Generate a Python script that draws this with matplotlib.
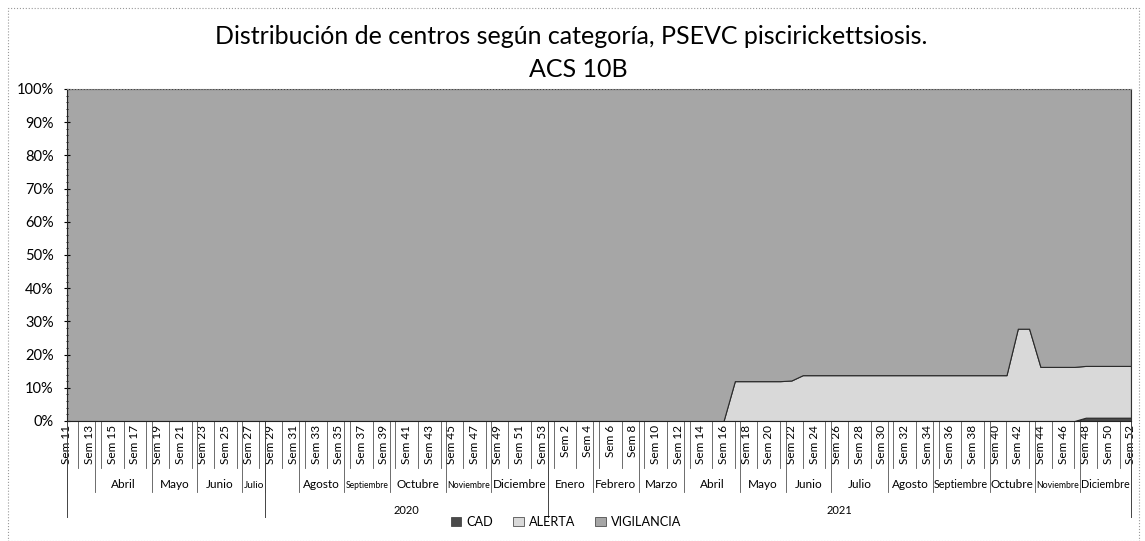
import matplotlib
matplotlib.use("Agg")
import matplotlib.pyplot as plt
import matplotlib.ticker as mticker
from matplotlib.patches import Rectangle, Patch
import numpy as np

plt.rcParams['font.family'] = ['Lato', 'DejaVu Sans']

# ---------------- data ----------------
weeks_2020 = list(range(11, 54))     # Sem 11 .. Sem 53 (2020)
weeks_2021 = list(range(1, 53))      # Sem 1 .. Sem 52 (2021)
week_labels = [f"Sem {w}" for w in weeks_2020] + [f"Sem {w}" for w in weeks_2021]

# percentage of centres per category
cad = [0.0] * 90 + [1.0, 1.0, 1.0, 1.0, 1.0]
alerta = ([0.0] * 59 +
          [12.0, 12.0, 12.0, 12.0, 12.0, 12.2] +
          [13.8] * 19 +
          [27.8, 27.8] +
          [16.3, 16.3, 16.3, 16.3] +
          [15.6, 15.6, 15.6, 15.6, 15.6])
vigilancia = [100.0 - c - a for c, a in zip(cad, alerta)]

# month groups (label, number of weeks) as in the multi-level axis
month_groups = [("", 3), ("Abril", 5), ("Mayo", 4), ("Junio", 4), ("Julio", 2),
                ("", 3), ("Agosto", 4), ("Septiembre", 4), ("Octubre", 5),
                ("Noviembre", 4), ("Diciembre", 5),
                ("Enero", 4), ("Febrero", 4), ("Marzo", 4), ("Abril", 5),
                ("Mayo", 4), ("Junio", 4), ("Julio", 5), ("Agosto", 4),
                ("Septiembre", 5), ("Octubre", 4), ("Noviembre", 4), ("Diciembre", 5)]
year_groups = [("", 18), ("2020", 25), ("2021", 52)]

series_names = ["CAD", "ALERTA", "VIGILANCIA"]
colors = ["#4a4a4a", "#d9d9d9", "#a6a6a6"]

# ---------------- figure ----------------
W, H = 1145, 541
fig = plt.figure(figsize=(W / 100, H / 100), dpi=100)
fig.patch.set_facecolor("white")

ax_l, ax_r, ax_t, ax_b = 67, 1131, 89, 421
ax = fig.add_axes([ax_l / W, 1 - ax_b / H, (ax_r - ax_l) / W, (ax_b - ax_t) / H])

n = len(week_labels)
x = np.arange(n)
total = np.array(cad) + np.array(alerta) + np.array(vigilancia)
ys = [np.array(s) / total for s in (cad, alerta, vigilancia)]
ax.stackplot(x, *ys, colors=colors, labels=series_names,
             edgecolor="#2a2a2a", linewidth=0.8)

ax.set_xlim(0, n - 1)
ax.set_ylim(0, 1)

ax.yaxis.set_major_locator(mticker.MultipleLocator(0.1))
ax.yaxis.set_minor_locator(mticker.MultipleLocator(0.02))
ax.yaxis.set_major_formatter(mticker.FuncFormatter(lambda v, p: f"{v*100:.0f}%"))
ax.tick_params(axis="y", which="major", length=5, direction="inout", labelsize=10.5, pad=7)
ax.tick_params(axis="y", which="minor", length=2, direction="inout")

ax.set_xticks(x[::2])
ax.set_xticklabels(week_labels[::2], rotation=90, fontsize=8.5)
ax.tick_params(axis="x", length=0, pad=3)

ax.spines["top"].set_linestyle(":")
ax.spines["top"].set_color("#888888")
ax.spines["right"].set_color("#333333")
ax.spines["left"].set_color("#222222")
ax.spines["bottom"].set_color("#222222")

trans = ax.get_xaxis_transform()
hpx = ax_b - ax_t
px_per_cat = (ax_r - ax_l) / (n - 1)
renderer = fig.canvas.get_renderer()


def yfrac(px):
    return -(px - ax_b) / hpx


# week separator lines
for i in range(1, n, 2):
    ax.plot([i, i], [0, yfrac(468)], transform=trans, color="#555555",
            lw=0.6, clip_on=False)

# month labels and separators
start = 0
for label, cnt in month_groups:
    b0 = max(start - 0.5, 0)
    b1 = min(start + cnt - 0.5, n - 1)
    ax.plot([b0] * 2, [0, yfrac(492)], transform=trans,
            color="#555555", lw=0.6, clip_on=False)
    t = ax.text((b0 + b1) / 2, yfrac(485), label, transform=trans,
                ha="center", va="center", fontsize=8.5)
    avail = (b1 - b0) * px_per_cat - 2
    w = t.get_window_extent(renderer).width
    if w > avail and w > 0:
        t.set_fontsize(8.5 * avail / w)
    start += cnt
ax.plot([n - 1] * 2, [0, yfrac(492)], transform=trans, color="#555555",
        lw=0.6, clip_on=False)

# year labels and separators
start = 0
for label, cnt in year_groups:
    b0 = max(start - 0.5, 0)
    b1 = min(start + cnt - 0.5, n - 1)
    ax.plot([b0, b0], [0, yfrac(517)], transform=trans, color="#444444",
            lw=0.7, clip_on=False)
    ax.text((b0 + b1) / 2, yfrac(510), label, transform=trans,
            ha="center", va="center", fontsize=8)
    start += cnt
ax.plot([n - 1] * 2, [0, yfrac(517)], transform=trans, color="#444444",
        lw=0.7, clip_on=False)

# title
fig.text(571 / W, 1 - 37 / H, "Distribución de centros según categoría, PSEVC piscirickettsiosis.",
         ha="center", va="center", fontsize=18)
fig.text(578 / W, 1 - 69 / H, "ACS 10B", ha="center", va="center", fontsize=18)

# legend
handles = [Patch(facecolor=c, edgecolor="#333333", linewidth=0.5) for c in colors]
fig.legend(handles, series_names, loc="center", bbox_to_anchor=(566 / W, 1 - 522 / H),
           ncol=3, frameon=False, fontsize=9.2, handlelength=0.8, handleheight=0.8,
           columnspacing=1.6, handletextpad=0.4)

# chart border
fig.patches.append(Rectangle((8 / W, 0), (1139 - 8) / W, 1 - 8 / H, transform=fig.transFigure,
                             fill=False, edgecolor="#999999", linestyle=":", linewidth=0.8))

fig.savefig("out.png", dpi=100, facecolor="white")
